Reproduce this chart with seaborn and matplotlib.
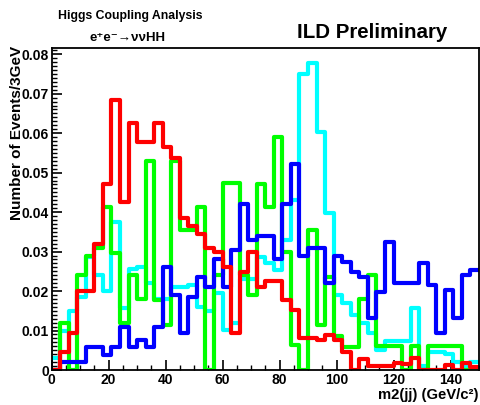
import numpy as np
import pandas as pd
import matplotlib
matplotlib.use("Agg")
import matplotlib.pyplot as plt
from matplotlib.ticker import MultipleLocator, FuncFormatter
import seaborn as sns

# 3 GeV bins from 0 to 150 GeV
bin_edges = list(range(0, 151, 3))
bin_centers = [e + 1.5 for e in bin_edges[:-1]]

red_vals = [0.0, 0.0046, 0.0094, 0.020, 0.020, 0.032, 0.047, 0.0685, 0.0426, 0.0626,
            0.0578, 0.0578, 0.0626, 0.0565, 0.0536, 0.0385, 0.0365, 0.0345, 0.031, 0.030,
            0.026, 0.0093, 0.0249, 0.030, 0.021, 0.0225, 0.0225, 0.0177, 0.0152, 0.0080,
            0.0080, 0.0075, 0.0089, 0.0076, 0.0046, 0.0, 0.0028, 0.0010, 0.0010, 0.0010,
            0.0018, 0.0015, 0.0030, 0.0, 0.0, 0.0, 0.0013, 0.0, 0.0017, 0.0008]

green_vals = [0.0, 0.012, 0.0, 0.024, 0.029, 0.031, 0.0413, 0.0296, 0.0118, 0.024,
              0.018, 0.053, 0.0177, 0.0114, 0.053, 0.0354, 0.0354, 0.0413, 0.0, 0.0240,
              0.0473, 0.0473, 0.024, 0.019, 0.047, 0.0413, 0.059, 0.030, 0.0063, 0.0,
              0.0354, 0.0114, 0.0236, 0.0085, 0.0059, 0.0059, 0.018, 0.024, 0.006, 0.006,
              0.006, 0.0, 0.006, 0.0, 0.006, 0.006, 0.006, 0.006, 0.0, 0.0]

cyan_vals = [0.003, 0.0100, 0.015, 0.0186, 0.0287, 0.024, 0.020, 0.0375, 0.0157, 0.0257,
             0.026, 0.022, 0.018, 0.018, 0.021, 0.021, 0.0215, 0.016, 0.015, 0.0195,
             0.0101, 0.012, 0.023, 0.023, 0.0287, 0.0270, 0.0253, 0.033, 0.043, 0.0751,
             0.0778, 0.0603, 0.0397, 0.019, 0.017, 0.014, 0.012, 0.0095, 0.005, 0.0074,
             0.0074, 0.0074, 0.0157, 0.001, 0.0045, 0.0045, 0.004, 0.002, 0.001, 0.002]

blue_vals = [0.0, 0.0021, 0.0021, 0.0021, 0.0059, 0.0059, 0.0038, 0.0059, 0.011, 0.0059,
             0.0076, 0.0059, 0.011, 0.026, 0.019, 0.0093, 0.0186, 0.0236, 0.021, 0.028,
             0.021, 0.0304, 0.042, 0.033, 0.034, 0.034, 0.028, 0.042, 0.0523, 0.029,
             0.031, 0.031, 0.022, 0.029, 0.0274, 0.0249, 0.0236, 0.0131, 0.0198, 0.0325,
             0.022, 0.022, 0.022, 0.027, 0.0215, 0.0093, 0.0203, 0.0131, 0.024, 0.0253]

x_ticks = [0, 20, 40, 60, 80, 100, 120, 140]
y_ticks = [0, 0.01, 0.02, 0.03, 0.04, 0.05, 0.06, 0.07, 0.08]

sns.set_theme(style="white")
plt.rcParams["font.family"] = ["Liberation Sans", "DejaVu Sans"]
plt.rcParams["font.weight"] = "bold"
plt.rcParams["text.color"] = "black"

fig = plt.figure(figsize=(4.81, 4.05), dpi=100)
W, H = 481, 405
x0, x1, y_top, y_bot = 51.6, 479.0, 47.5, 370.0
ax = fig.add_axes([x0 / W, 1 - y_bot / H, (x1 - x0) / W, (y_bot - y_top) / H])

series = [(cyan_vals, "#00ffff"), (green_vals, "#00ff00"),
          (blue_vals, "#0000ff"), (red_vals, "#ff0000")]
for vals, col in series:
    df = pd.DataFrame({"m2": bin_centers, "w": vals})
    sns.histplot(data=df, x="m2", weights="w", bins=bin_edges, element="step",
                 fill=False, color=col, linewidth=3.0, ax=ax)

ax.set_xlim(0, 150)
ax.set_ylim(0, 0.0817)
ax.set_xticks(x_ticks)
ax.set_yticks(y_ticks)
ax.xaxis.set_minor_locator(MultipleLocator(5))
ax.yaxis.set_minor_locator(MultipleLocator(0.001))
ax.xaxis.set_major_formatter(FuncFormatter(lambda v, p: f"{v:g}"))
ax.yaxis.set_major_formatter(FuncFormatter(lambda v, p: "0" if v == 0 else f"{v:.2f}"))
ax.tick_params(axis="both", which="major", direction="in", length=7.5, width=1.2,
               labelsize=10, pad=2, colors="black")
ax.tick_params(axis="both", which="minor", direction="in", length=3.8, width=1.0,
               colors="black")
ax.tick_params(top=False, right=False, which="both")
ax.tick_params(axis="x", which="both", bottom=True)
ax.tick_params(axis="y", which="both", left=True)
for lab in ax.get_xticklabels() + ax.get_yticklabels():
    lab.set_fontweight("bold")
for sp in ax.spines.values():
    sp.set_color("black")
    sp.set_linewidth(1.3)
ax.set_xlabel("")
ax.set_ylabel("")

fig.text(x1 / W, 1 - 395 / H, "m2(jj) (GeV/c²)", ha="right", va="center",
         fontsize=10.7, fontweight="bold", color="black")
fig.text(17 / W, 1 - 46 / H, "Number of Events/3GeV", rotation=90, ha="center",
         va="top", fontsize=11, fontweight="bold", color="black")
fig.text(130 / W, 1 - 16 / H, "Higgs Coupling Analysis", ha="center", va="center",
         fontsize=8.8, fontweight="bold", color="black")
fig.text(128 / W, 1 - 38 / H, "e⁺e⁻→ννHH", ha="center", va="center",
         fontsize=9.5, fontweight="bold", color="black")
fig.text(372 / W, 1 - 32 / H, "ILD Preliminary", ha="center", va="center",
         fontsize=14.8, fontweight="bold", color="black")

fig.savefig("out.png", dpi=100, facecolor="white")
